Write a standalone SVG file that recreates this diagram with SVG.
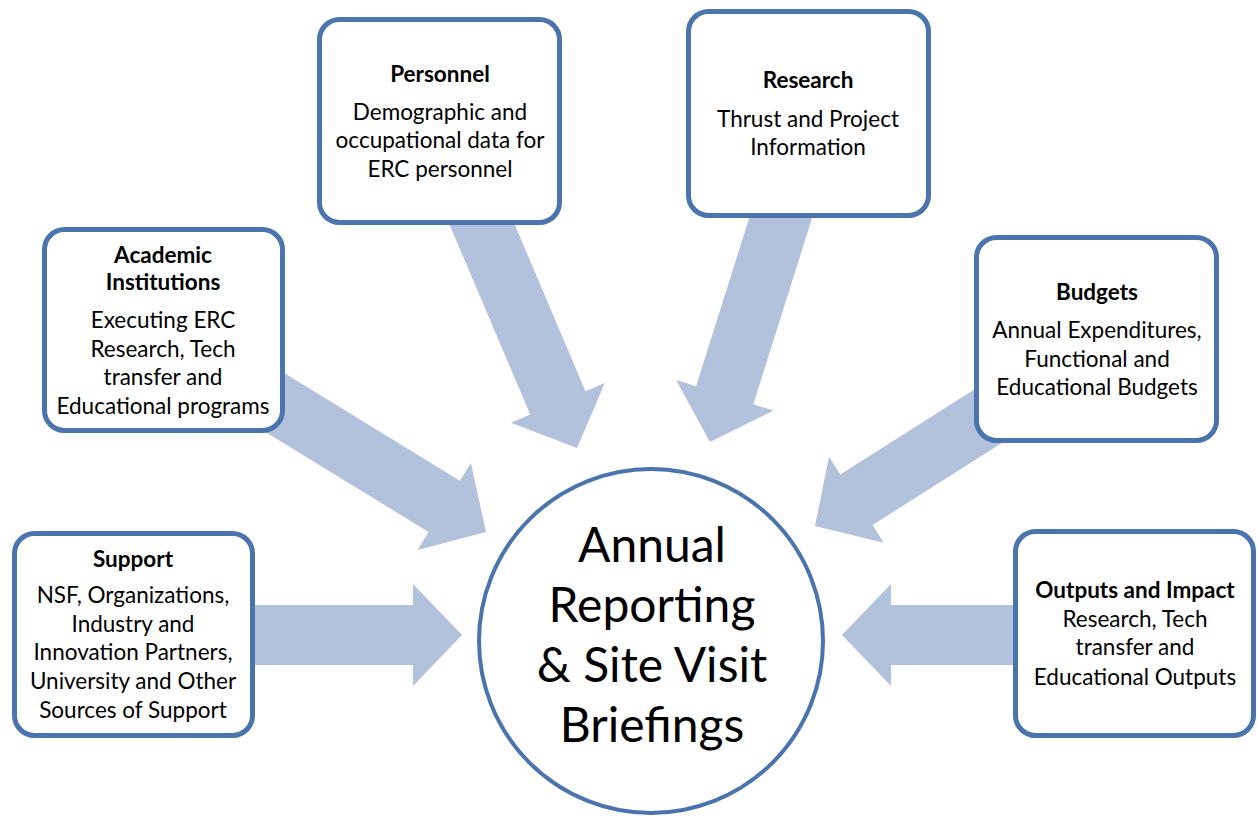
<svg xmlns="http://www.w3.org/2000/svg" xmlns:xlink="http://www.w3.org/1999/xlink" width="1257" height="819" viewBox="0 0 1257 819">
<style>
.box{fill:#fff;stroke:#4a74ab;stroke-width:5}
.arr{fill:#b2c1dc}
text{font-family:Lato,"Open Sans","Liberation Sans",sans-serif;fill:#000;text-anchor:middle}
.t{font-size:22.5px;font-weight:bold}
.b{font-size:22.5px}
.c{font-size:48px}
</style>
<defs>
<polygon id="arrow" points="-280,-30 -49,-30 -49,-51 0,0 -49,51 -49,30 -280,30"/>
</defs>
<rect width="1257" height="819" fill="#fff"/>
<g id="connectors">
<use xlink:href="#arrow" href="#arrow" class="arr" transform="translate(462,635)"/>
<use xlink:href="#arrow" href="#arrow" class="arr" transform="translate(486,532) rotate(31.5)"/>
<use xlink:href="#arrow" href="#arrow" class="arr" transform="translate(577,448) rotate(67)"/>
<use xlink:href="#arrow" href="#arrow" class="arr" transform="translate(710,442) rotate(107.5)"/>
<use xlink:href="#arrow" href="#arrow" class="arr" transform="translate(815,526) rotate(147.6)"/>
<use xlink:href="#arrow" href="#arrow" class="arr" transform="translate(842,635) rotate(180)"/>
</g>
<g id="center">
<circle cx="651" cy="641" r="172" fill="#fff" stroke="#4a74ab" stroke-width="4"/>
<text class="c" x="652" y="562">Annual</text>
<text class="c" x="652" y="622">Reporting</text>
<text class="c" x="652" y="682">&amp; Site Visit</text>
<text class="c" x="652" y="742">Briefings</text>
</g>
<g id="support">
<rect class="box" x="14.5" y="533.5" width="238" height="202" rx="20"/>
<text class="t" x="133" y="567">Support</text>
<text class="b" x="133" y="603">NSF, Organizations,</text>
<text class="b" x="133" y="632">Industry and</text>
<text class="b" x="133" y="660">Innovation Partners,</text>
<text class="b" x="133" y="689">University and Other</text>
<text class="b" x="133" y="718">Sources of Support</text>
</g>
<g id="academic">
<rect class="box" x="44.5" y="229.5" width="238" height="201" rx="20"/>
<text class="t" x="163" y="263">Academic</text>
<text class="t" x="163" y="290">Institutions</text>
<text class="b" x="163" y="328">Executing ERC</text>
<text class="b" x="163" y="357">Research, Tech</text>
<text class="b" x="163" y="385">transfer and</text>
<text class="b" x="163" y="414">Educational programs</text>
</g>
<g id="personnel">
<rect class="box" x="319.5" y="19.5" width="240" height="203" rx="20"/>
<text class="t" x="440" y="82">Personnel</text>
<text class="b" x="440" y="120">Demographic and</text>
<text class="b" x="440" y="148">occupational data for</text>
<text class="b" x="440" y="177">ERC personnel</text>
</g>
<g id="research">
<rect class="box" x="688.5" y="11.5" width="240" height="204" rx="20"/>
<text class="t" x="808" y="88">Research</text>
<text class="b" x="808" y="127">Thrust and Project</text>
<text class="b" x="808" y="155">Information</text>
</g>
<g id="budgets">
<rect class="box" x="976.5" y="237.5" width="240" height="203" rx="20"/>
<text class="t" x="1097" y="300">Budgets</text>
<text class="b" x="1097" y="338">Annual Expenditures,</text>
<text class="b" x="1097" y="367">Functional and</text>
<text class="b" x="1097" y="395">Educational Budgets</text>
</g>
<g id="outputs">
<rect class="box" x="1015.5" y="531.5" width="238" height="204" rx="20"/>
<text class="t" x="1135" y="598">Outputs and Impact</text>
<text class="b" x="1135" y="627">Research, Tech</text>
<text class="b" x="1135" y="655">transfer and</text>
<text class="b" x="1135" y="685">Educational Outputs</text>
</g>
</svg>
